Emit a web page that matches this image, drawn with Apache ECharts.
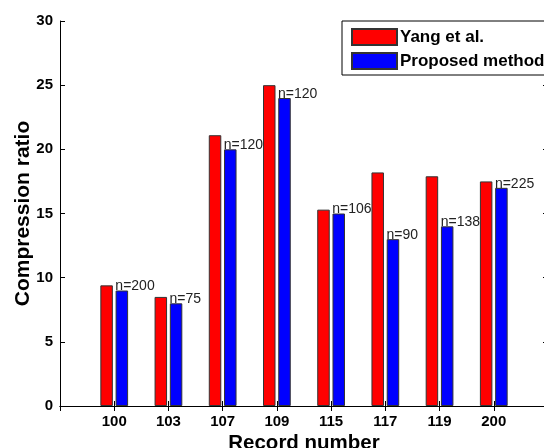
<!DOCTYPE html>
<html>
<head>
<meta charset="utf-8">
<script src="https://cdn.jsdelivr.net/npm/echarts@6/dist/echarts.min.js"></script>
<style>
html,body{margin:0;padding:0;background:#fff;}
#chart{width:544px;height:448px;}
</style>
</head>
<body>
<div id="chart"></div>
<script>
var categories = ['100', '103', '107', '109', '115', '117', '119', '200'];
var yangValues = [9.4, 8.5, 21.1, 25.0, 15.3, 18.2, 17.9, 17.5];
var proposedValues = [9.0, 8.0, 20.0, 24.0, 15.0, 13.0, 14.0, 17.0];
var sampleCounts = [200, 75, 120, 120, 106, 90, 138, 225];
var yTicks = [0, 5, 10, 15, 20, 25, 30];

var FONT = "'Liberation Sans', Arial, Helvetica, sans-serif";
// pad an empty slot on each side (MATLAB-style xlim [0, 9])
var axisCats = [''].concat(categories).concat(['']);
function pad(arr) { return [null].concat(arr).concat([null]); }

function tickStyle() {
  return {show: true, inside: true, length: 5, lineStyle: {color: '#000', width: 1}};
}

var chart = echarts.init(document.getElementById('chart'), null, {renderer: 'canvas'});
chart.setOption({
  animation: false,
  backgroundColor: '#fff',
  grid: {left: 60, top: 21, right: -4, bottom: 42, containLabel: false, outerBoundsMode: 'none'},
  legend: {
    orient: 'vertical',
    left: 342, top: 21,
    padding: [7, 12, 5, 9],
    itemWidth: 45, itemHeight: 16, itemGap: 6,
    backgroundColor: '#fff',
    borderColor: '#000', borderWidth: 1,
    icon: 'rect',
    textStyle: {fontFamily: FONT, fontWeight: 'bold', fontSize: 17, color: '#000', padding: [0, 0, 0, -2]},
    data: ['Yang et al.', 'Proposed method']
  },
  xAxis: [{
    type: 'category', data: axisCats, boundaryGap: false, position: 'bottom',
    name: 'Record number', nameLocation: 'middle', nameGap: 27, nameMoveOverlap: false,
    nameTextStyle: {fontFamily: FONT, fontWeight: 'bold', fontSize: 20.5, color: '#000'},
    axisLine: {show: true, lineStyle: {color: '#000', width: 1}},
    axisTick: tickStyle(),
    axisLabel: {show: true, interval: 0, margin: 8, fontFamily: FONT, fontWeight: 'bold', fontSize: 15, color: '#000'},
    splitLine: {show: false}
  }, {
    type: 'category', data: axisCats, boundaryGap: false, position: 'top',
    axisLine: {show: true, lineStyle: {color: '#000', width: 1}},
    axisTick: tickStyle(),
    axisLabel: {show: false}, splitLine: {show: false}
  }],
  yAxis: [{
    type: 'value', min: yTicks[0], max: yTicks[yTicks.length - 1], interval: 5, position: 'left',
    name: 'Compression ratio', nameLocation: 'middle', nameGap: 26, nameRotate: 90, nameMoveOverlap: false,
    nameTextStyle: {fontFamily: FONT, fontWeight: 'bold', fontSize: 21, color: '#000', verticalAlign: 'bottom'},
    axisLine: {show: true, lineStyle: {color: '#000', width: 1}},
    axisTick: tickStyle(),
    axisLabel: {margin: 7, fontFamily: FONT, fontWeight: 'bold', fontSize: 15, color: '#000'},
    splitLine: {show: false}
  }, {
    type: 'value', min: yTicks[0], max: yTicks[yTicks.length - 1], interval: 5, position: 'right',
    axisLine: {show: true, lineStyle: {color: '#000', width: 1}},
    axisTick: tickStyle(),
    axisLabel: {show: false}, splitLine: {show: false}
  }],
  series: [{
    name: 'Yang et al.', type: 'bar', data: pad(yangValues),
    barWidth: 12.5, barGap: '22%',
    itemStyle: {color: '#ff0000', borderColor: '#333', borderWidth: 1}
  }, {
    name: 'Proposed method', type: 'bar', data: pad(proposedValues),
    barWidth: 12.5, barGap: '22%',
    itemStyle: {color: '#0000ff', borderColor: '#333', borderWidth: 1},
    label: {
      show: true, position: 'top', distance: 0, align: 'left', offset: [-6.5, 3],
      fontFamily: FONT, fontSize: 14, color: '#222',
      formatter: function (p) { return 'n=' + sampleCounts[p.dataIndex - 1]; }
    }
  }]
});
</script>
</body>
</html>
